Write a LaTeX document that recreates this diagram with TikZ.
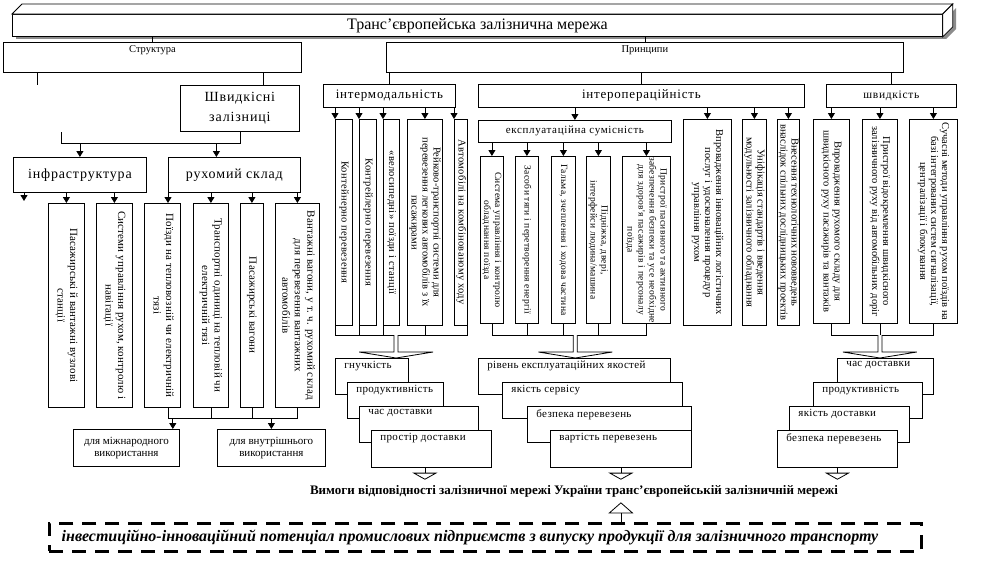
\documentclass[tikz,border=0pt]{standalone}
\usepackage{fontspec}
\setmainfont{Liberation Serif}
\newfontfamily\spacedfont[LetterSpace=6]{Liberation Serif}
\newfontfamily\tallfont[LetterSpace=1.5]{Liberation Serif}
\newfontfamily\loosefont[LetterSpace=3]{Liberation Serif}
\usepackage{graphicx}
\usetikzlibrary{calc,arrows.meta,positioning}

% rotated text for the tall boxes (reads top to bottom)
\newcommand{\vlab}[1]{\rotatebox{-90}{\begin{tabular}{@{}c@{}}#1\end{tabular}}}
% hollow block arrow from a bus point down to a node
\newcommand{\fatarrow}[2]{%
  \draw[fill=white] ($(#1)+(-2,0)$) -- ($(#1 |- #2.north)+(-2,-6)$) -- ++(-35,0)
    -- (#1 |- #2.north) -- ++(37,-6) -- ++(-35,0) -- ($(#1)+(2,0)$);}

\tikzset{
  box/.style={draw, fill=white, inner sep=0pt},
  spanbox/.style n args={4}{box, anchor=north west, at={(#1,#2)},
    minimum width={(#3-#1)*1pt}, minimum height={(#4-#2)*1pt}},
  vtext/.style={font=\fontsize{10.5}{11}\selectfont},
  ltext/.style={font=\tallfont\fontsize{11}{12.5}\selectfont},
  itext/.style={font=\loosefont\fontsize{10.5}{12}\selectfont},
  etext/.style={font=\loosefont\fontsize{9.5}{11}\selectfont},
  hdr/.style={anchor=north, inner sep=0pt, yshift=-3pt, font=\fontsize{10.5}{12}\selectfont},
  bigl/.style={font=\spacedfont\fontsize{14}{20}\selectfont, align=center},
  stacklab/.style={anchor=north west, inner sep=0pt, xshift=9pt, yshift=-3pt,
    font=\loosefont\fontsize{11}{12}\selectfont},
  arr/.style={-{Triangle[width=7pt,length=6pt]}},
  openarr/.style={-{Triangle[open,width=25pt,length=7pt]}, shorten >=4pt},
  uparr/.style={-{Triangle[open,width=25pt,length=11pt]}, shorten >=4pt},
  invbox/.style={draw, line width=2.5pt, dash pattern=on 14pt off 9pt},
}

\begin{document}
\begin{tikzpicture}[x=1pt, y=-1pt, line width=0.8pt]
  \fill[white] (0,0) rectangle (991,563);
  \useasboundingbox (0,0) rectangle (991,563);

  % title block with shadow
  \fill[black!45] (16,18) rectangle (946,39);
  \fill[black!45] (946,39) -- (956,29) -- (956,8) -- (946,18) -- cycle;
  \node[spanbox={12}{14}{942}{36}, font=\fontsize{16}{18}\selectfont] (title) {Транс'європейська залізнична мережа};
  \draw[fill=white] (title.north west) -- ++(10,-10) -- ($(title.north east)+(10,-10)$) -- (title.north east) -- cycle;
  \draw[fill=white] (title.north east) -- ++(10,-10) -- ($(title.south east)+(10,-10)$) -- (title.south east) -- cycle;

  \node[spanbox={3}{42}{301}{72}, label={[hdr]north:Структура}] (struct) {};
  \node[spanbox={386}{42}{903}{72}, label={[hdr]north:Принципи}] (princ) {};
  \draw (title.south -| struct.north) -- (struct.north);
  \draw (title.south -| princ.north) -- (princ.north);

  % structure
  \node[spanbox={180}{85}{299}{131}, bigl] (hsr) {Швидкісні\\залізниці};
  \coordinate (sfree) at (37,85);
  \coordinate (sh) at ($(hsr.north west)!0.7!(hsr.north east)$);
  \draw (struct.south -| sfree) -- (sfree);
  \draw (struct.south -| sh) -- (sh);

  \node[spanbox={13}{157}{146}{192}, bigl] (infra) {інфраструктура};
  \node[spanbox={168}{157}{300}{192}, bigl] (stock) {рухомий склад};
  \coordinate (hfree) at (61,132);
  \coordinate (hbus) at (0,143);
  \coordinate (sa) at ([xshift=-18pt]stock.north);
  \draw (hfree) |- (hsr.south |- hbus) -- (hsr.south);
  \draw[arr] (infra.north |- hbus) -- (infra.north);
  \draw[arr] (sa |- hbus) -- (sa);

  \node[spanbox={48}{203}{84}{407}, ltext] (pax) {\vlab{Пасажирські й вантажні вузлові\\станції}};
  \node[spanbox={96}{203}{132}{407}, ltext] (ctrl) {\vlab{Системи управління рухом, контролю і\\навігації}};
  \node[spanbox={144}{203}{180}{407}, ltext] (loco) {\vlab{Поїзди на тепловозній чи електричній\\тязі}};
  \node[spanbox={193}{203}{228}{407}, ltext] (units) {\vlab{Транспортні одиниці на тепловій чи\\електричній тязі}};
  \node[spanbox={240}{203}{263}{407}, ltext] (coach) {\vlab{Пасажирські вагони}};
  \node[spanbox={275}{203}{319}{407}, ltext] (wagon) {\vlab{Вантажні вагони, у т. ч. рухомий склад\\для перевезення вантажних\\автомобілів}};

  \coordinate (ifree) at (24,201);
  \draw[arr] (infra.south -| ifree) -- (ifree);
  \draw[arr] (infra.south -| pax.north) -- (pax.north);
  \draw[arr] (infra.south -| ctrl.north) -- (ctrl.north);
  \draw[arr] (stock.south west) -- (stock.south west |- loco.north);
  \foreach \b in {units,coach,wagon}
    \draw[arr] (stock.south -| \b.north) -- (\b.north);

  \coordinate (sbus) at (0,418);
  \draw (loco.south -| stock.west) |- (wagon.south |- sbus) -- (wagon.south);
  \draw (units.south) -- (units.south |- sbus);
  \draw (coach.south) -- (coach.south |- sbus);

  \node[spanbox={73}{429}{179}{466}, font=\fontsize{11}{12.5}\selectfont, align=center] (intl) {для міжнародного\\використання};
  \node[spanbox={217}{429}{325}{466}, font=\fontsize{11}{12.5}\selectfont, align=center] (dom) {для внутрішнього\\використання};
  \coordinate (ia) at ([xshift=-7pt]intl.north east);
  \draw[arr] (ia |- sbus) -- (ia);
  \draw[arr] (dom.north |- sbus) -- (dom.north);

  % principles: intermodality
  \node[spanbox={323}{84}{455}{107}, font=\spacedfont\fontsize{13}{15}\selectfont] (imod) {інтермодальність};
  \draw (princ.south -| imod.north) -- (imod.north);
  \node[spanbox={335}{119}{352}{325}, itext] (cont) {\vlab{Контейнерно перевезення}};
  \node[spanbox={359}{119}{376}{325}, itext] (piggy) {\vlab{Контрейлерно перевезення}};
  \node[spanbox={383}{119}{399}{325}, itext] (bike) {\vlab{«велосипедні» поїзди і станції}};
  \node[spanbox={407}{119}{442}{325}, vtext] (carrail) {\vlab{Рейково-транспортні системи для\\перевезення легкових автомобілів з їх\\пасажирами}};
  \node[spanbox={454}{119}{467}{325}, itext] (dual) {\vlab{Автомобілі на комбінованому ходу}};
  \foreach \b in {cont,piggy,bike,dual}
    \draw[arr] (imod.south -| \b.north west) -- (\b.north west);
  \draw[arr] (imod.south -| carrail.north) -- (carrail.north);

  \coordinate (ibus) at (0,335);
  \draw (cont.south west) |- (dual.south east |- ibus) -- (dual.south east);
  \foreach \b in {piggy.south west, bike.south west, carrail.south}
    \draw (\b) -- (\b |- ibus);
  \coordinate (ij) at ($(cont.south west |- ibus)!0.46!(dual.south east |- ibus)$);

  \node[spanbox={335}{358}{408}{394}, label={[stacklab]north west:гнучкість}] (flex) {};
  \node[spanbox={347}{382}{443}{418}, label={[stacklab]north west:продуктивність}] (iprod) {};
  \node[spanbox={359}{406}{478}{442}, label={[stacklab]north west:час доставки}] (itime) {};
  \node[spanbox={371}{430}{491}{467}, label={[stacklab]north west:простір доставки}] (ispace) {};
  \fatarrow{ij}{flex}

  % principles: interoperability
  \node[spanbox={478}{84}{804}{107}, font=\spacedfont\fontsize{13}{15}\selectfont] (iop) {інтеропераційність};
  \draw (princ.south -| iop.north) -- (iop.north);
  \node[spanbox={478}{120}{671}{142}, font=\spacedfont\fontsize{11}{13}\selectfont] (opcomp) {експлуатаційна сумісність};
  \draw[arr] (iop.south -| opcomp.north) -- (opcomp.north);

  \node[spanbox={480}{156}{503}{323}, etext] (ctlsys) {\vlab{Система управління і контролю\\обладнання поїзда}};
  \node[spanbox={515}{156}{538}{323}, etext] (traction) {\vlab{Засоби тяги і перетворення енергії}};
  \node[spanbox={551}{156}{575}{323}, etext] (brakes) {\vlab{Гальма, зчеплення і ходова частина}};
  \node[spanbox={586}{156}{610}{323}, etext] (doors) {\vlab{Підніжка, двері,\\інтерфейси людина/машина}};
  \node[spanbox={622}{156}{670}{323}, etext] (safety) {\vlab{Пристрої пасивного та активного\\забезпечення безпеки та усе необхідне\\для здоров'я пасажирів і персоналу\\поїзда}};
  \foreach \b in {ctlsys,traction,brakes,doors,safety}
    \draw[arr] (opcomp.south -| \b.north) -- (\b.north);

  \node[spanbox={683}{119}{731}{325}, vtext] (logist) {\vlab{Впровадження інноваційних логістичних\\послуг і удосконалення процедур\\управління рухом}};
  \node[spanbox={742}{119}{766}{325}, vtext] (unif) {\vlab{Уніфікація стандартів і введення\\модульності залізничного обладнання}};
  \node[spanbox={777}{119}{799}{325}, vtext] (innov) {\vlab{Внесення технологічних нововведень\\внаслідок спільних дослідницьких проектів}};
  \foreach \b in {logist,unif,innov}
    \draw[arr] (iop.south -| \b.north) -- (\b.north);

  \coordinate (ebus) at (0,335);
  \draw (ctlsys.south) |- (safety.south |- ebus) -- (safety.south);
  \foreach \b in {traction,brakes,doors}
    \draw (\b.south) -- (\b.south |- ebus);
  \coordinate (ej) at ($(ctlsys.south |- ebus)!0.54!(safety.south |- ebus)$);

  \node[spanbox={478}{358}{670}{394}, label={[stacklab]north west:рівень експлуатаційних якостей}] (level) {};
  \node[spanbox={502}{382}{682}{418}, label={[stacklab]north west:якість сервісу}] (service) {};
  \node[spanbox={527}{406}{691}{442}, label={[stacklab]north west:безпека перевезень}] (esafe) {};
  \node[spanbox={550}{430}{691}{467}, label={[stacklab]north west:вартість перевезень}] (cost) {};
  \fatarrow{ej}{level}

  % principles: speed
  \node[spanbox={826}{84}{956}{107}, font=\spacedfont\fontsize{11.5}{13}\selectfont] (speed) {швидкість};
  \draw (princ.south -| speed.north) -- (speed.north);
  \node[spanbox={813}{119}{849}{323}, vtext] (hsstock) {\vlab{Впровадження рухомого складу для\\швидкісного руху пасажирів та вантажів}};
  \node[spanbox={862}{119}{897}{323}, vtext] (grade) {\vlab{Пристрої відокремлення швидкісного\\залізничного руху від автомобільних доріг}};
  \node[spanbox={909}{119}{957}{323}, vtext] (signal) {\vlab{Сучасні методи управління рухом поїздів на\\базі інтегрованих систем сигналізації,\\централізації і блокування}};
  \foreach \b in {hsstock,grade,signal}
    \draw[arr] (speed.south -| \b.north) -- (\b.north);

  \coordinate (wbus) at (0,335);
  \draw (hsstock.south) |- (signal.south |- wbus) -- (signal.south);
  \draw (grade.south) -- (grade.south |- wbus);
  \coordinate (wj) at (grade.south |- wbus);

  \node[spanbox={837}{358}{933}{394}, label={[stacklab]north west:час доставки}] (dtime) {};
  \node[spanbox={813}{382}{922}{418}, label={[stacklab]north west:продуктивність}] (wprod) {};
  \node[spanbox={789}{406}{909}{442}, label={[stacklab]north west:якість доставки}] (dqual) {};
  \node[spanbox={777}{430}{897}{467}, label={[stacklab]north west:безпека перевезень}] (wsafe) {};
  \fatarrow{wj}{dtime}

  % requirements and potential
  \node[inner sep=1pt, font=\bfseries\fontsize{13}{14}\selectfont] (req) at (574,491)
    {Вимоги відповідності залізничної мережі України транс'європейській залізничній мережі};
  \draw[openarr] (ispace.south -| carrail.south) -- (req.north -| carrail.south);
  \draw[openarr] (cost.south) -- (cost.south |- req.north);
  \draw[openarr] (wsafe.south) -- (wsafe.south |- req.north);

  \node[spanbox={48}{522}{920}{550}, invbox,
    label={[anchor=west, xshift=10pt, font=\bfseries\itshape\fontsize{16}{18}\selectfont]west:інвестиційно-інноваційний потенціал промислових підприємств з випуску продукції для залізничного транспорту}] (inv) {};
  \draw[uparr] (inv.north -| cost.south) -- (req.south -| cost.south);
\end{tikzpicture}
\end{document}
